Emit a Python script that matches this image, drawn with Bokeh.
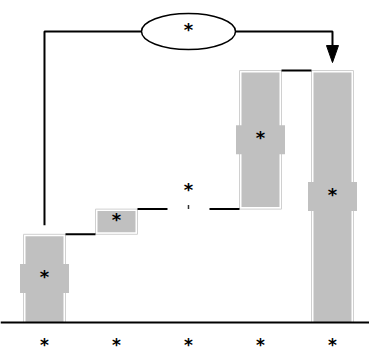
from bokeh.plotting import figure
from bokeh.models import Span, Range1d, ColumnDataSource
from bokeh.embed import file_html
from bokeh.resources import INLINE
from bokeh.core.properties import value

# ---- data ----
categories = ["*", "*", "*", "*", "*"]
values = [35, 10, 0, 55, 100]
is_total = [False, False, False, False, True]
bar_labels = ["*", "*", "*", "*", "*"]
bracket_label = "*"

# ---- layout ----
W, H = 369, 355
y0, y1 = -13.1, 127.8
x0, x1 = -0.611, 4.514
ppx = W / (x1 - x0)        # px per x unit
ppy = H / (y1 - y0)        # px per y unit

FONT = value("DejaVu Sans")
GRAY = "#c0c0c0"

p = figure(width=W, height=H, output_backend="svg", toolbar_location=None,
           x_range=Range1d(x0, x1), y_range=Range1d(y0, y1),
           x_axis_location=None, y_axis_location=None, min_border=0)
p.grid.visible = False
p.outline_line_color = None
p.background_fill_color = "white"

# running totals
starts, ends = [], []
run = 0
for v, tot in zip(values, is_total):
    if tot:
        starts.append(0); ends.append(v); run = v
    else:
        starts.append(run); run += v; ends.append(run)

xs = list(range(len(values)))
bw = 42 / ppx
bw_in = 38 / ppx

real = [i for i in xs if starts[i] != ends[i]]
tops = [max(starts[i], ends[i]) for i in real]
bots = [min(starts[i], ends[i]) for i in real]
src = ColumnDataSource(dict(x=real, top=tops, bottom=bots,
                            top_in=[t - 2 / ppy for t in tops],
                            bottom_in=[b if b == 0 else b + 2 / ppy for b in bots],
                            mid=[(t + b) / 2 + 2 / ppy for t, b in zip(tops, bots)],
                            lab=[bar_labels[i] for i in real]))

p.vbar(x="x", top="top", bottom="bottom", width=bw, source=src,
       fill_color="white", line_color="#d0d0d0", line_width=1)
p.vbar(x="x", top="top_in", bottom="bottom_in", width=bw_in, source=src,
       fill_color=GRAY, line_color=None)

# label background boxes (only where bar is tall enough)
big = [i for i in real if abs(ends[i] - starts[i]) * ppy > 40]
p.rect(x=big, y=[(starts[i] + ends[i]) / 2 for i in big], width=49, height=29,
       width_units="screen", height_units="screen", fill_color=GRAY, line_color=None)

TXT = dict(text_font=FONT, text_font_size="18px", text_font_style="bold",
           text_align="center", text_baseline="middle", text_color="black")

# labels inside bars
p.text(x="x", y="mid", text="lab", source=src, **TXT)

# zero-value bar: tiny mark + label above
zero = [i for i in xs if starts[i] == ends[i]]
for i in zero:
    p.segment(x0=[i], y0=[ends[i]], x1=[i], y1=[ends[i] + 4 / ppy],
              line_color="#333333", line_width=1.5)
    p.text(x=[i], y=[ends[i] + 20 / ppy], text=[bar_labels[i]], **TXT)

# connectors
cx0, cy, cx1 = [], [], []
for i in range(len(values) - 1):
    cx0.append(i + bw / 2); cx1.append(i + 1 - bw / 2); cy.append(ends[i])
p.segment(x0=cx0, y0=cy, x1=cx1, y1=cy, line_color="black", line_width=2)

# baseline
p.add_layout(Span(location=0, dimension="width", line_color="black", line_width=2))

# category labels
TXT_CAT = dict(TXT, text_font_size="17px")
p.text(x=xs, y=[-9.0] * len(xs), text=categories, **TXT_CAT)

# bracket from first to last bar
first, last = 0, len(values) - 1
by = ends[last] + 39 / ppy
left_bottom = ends[first] + 9 / ppy
tip = ends[last] + 8 / ppy
p.line(x=[first, first, last, last], y=[left_bottom, by, by, tip + 14 / ppy],
       line_color="black", line_width=2)
p.patch(x=[last - 6 / ppx, last + 6 / ppx, last],
        y=[tip + 17 / ppy, tip + 17 / ppy, tip], fill_color="black", line_color="black")
midx = (first + last) / 2
p.ellipse(x=[midx], y=[by], width=94, height=36, width_units="screen", height_units="screen",
          fill_color="white", line_color="black", line_width=1.5)
p.text(x=[midx], y=[by + 2 / ppy], text=[bracket_label], **TXT)

open("out.html", "w").write(file_html(p, INLINE))
